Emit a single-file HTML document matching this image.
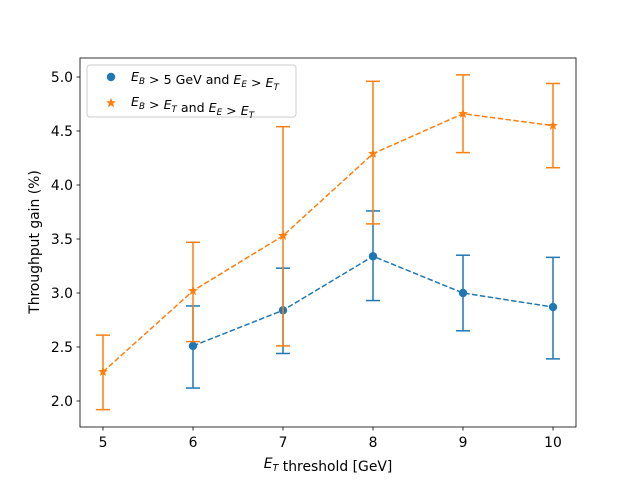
<!DOCTYPE html>
<html><head><meta charset="utf-8"><style>
body{margin:0;background:#fff;font-family:"DejaVu Sans","Liberation Sans",sans-serif;}
svg text{font-family:"DejaVu Sans","Liberation Sans",sans-serif;}
</style></head><body>
<svg id="chart" width="640" height="480" xmlns="http://www.w3.org/2000/svg"></svg>
<script>
const xCats=[5,6,7,8,9,10];
const blueX=[6,7,8,9,10];
const blueY=[2.51,2.84,3.34,3.00,2.87];
const blueLo=[2.12,2.44,2.93,2.65,2.39];
const blueHi=[2.88,3.23,3.76,3.35,3.33];
const orangeX=[5,6,7,8,9,10];
const orangeY=[2.27,3.02,3.53,4.29,4.66,4.55];
const orangeLo=[1.92,2.55,2.51,3.64,4.30,4.16];
const orangeHi=[2.61,3.47,4.54,4.96,5.02,4.94];
const yTicks=[2.0,2.5,3.0,3.5,4.0,4.5,5.0];
const yTickLabels=["2.0","2.5","3.0","3.5","4.0","4.5","5.0"];

const NS="http://www.w3.org/2000/svg";
const svg=document.getElementById('chart');
const L=80,R=576,T=58,B=427;
const FS=13.9, SFS=9.7, LFS=12.6, LSFS=8.8;
const sx=v=>103+(v-5)*90;
const sy=v=>77+(5-v)*108;
function mk(tag,attrs,parent){const e=document.createElementNS(NS,tag);for(const k in attrs)e.setAttribute(k,attrs[k]);(parent||svg).appendChild(e);return e;}

const frame=mk('rect',{x:L,y:T,width:R-L,height:B-T,fill:'none',stroke:'#000','stroke-width':0.8});



xCats.forEach(v=>{
  const t=mk('line',{x1:sx(v),x2:sx(v),y1:B,y2:B+3.5,stroke:'#000','stroke-width':0.8});
  
  
  const l=mk('text',{x:sx(v),y:B+20,'font-size':FS,'text-anchor':'middle'});l.textContent=v;
  
  
});
yTicks.forEach((v,i)=>{
  const t=mk('line',{x1:L-3.5,x2:L,y1:sy(v),y2:sy(v),stroke:'#000','stroke-width':0.8});
  
  
  const l=mk('text',{x:L-7,y:sy(v)+5,'font-size':FS,'text-anchor':'end'});l.textContent=yTickLabels[i];
  
  
});

function series(xs,ys,lo,hi,color,marker,name){
  const g=mk('g',{});
  
  
  mk('polyline',{points:xs.map((x,i)=>sx(x)+','+sy(ys[i])).join(' '),fill:'none',stroke:color,'stroke-width':1.5,'stroke-dasharray':'5.5,2.4'},g);
  xs.forEach((x,i)=>{
    const X=sx(x);
    const eb=mk('g',{stroke:color,'stroke-width':1.5},g);
    
    
    mk('line',{x1:X,x2:X,y1:sy(lo[i]),y2:sy(hi[i])},eb);
    mk('line',{x1:X-7,x2:X+7,y1:sy(lo[i]),y2:sy(lo[i])},eb);
    mk('line',{x1:X-7,x2:X+7,y1:sy(hi[i]),y2:sy(hi[i])},eb);
    const m=marker(X,sy(ys[i]),g);
    
    
  });
}
function circ(x,y,p){return mk('circle',{cx:x,cy:y,r:4.2,fill:'#1f77b4'},p);}
function star(x,y,p){let pts=[];for(let k=0;k<10;k++){const r=k%2?2.2:5.2,a=-Math.PI/2+k*Math.PI/5;pts.push((x+r*Math.cos(a)).toFixed(2)+','+(y+r*Math.sin(a)).toFixed(2));}return mk('polygon',{points:pts.join(' '),fill:'#ff7f0e'},p);}
series(blueX,blueY,blueLo,blueHi,'#1f77b4',circ,'series-blue');
series(orangeX,orangeY,orangeLo,orangeHi,'#ff7f0e',star,'series-orange');

const sub=(s,f)=>'<tspan font-size="'+f+'" dy="3" font-style="italic">'+s+'</tspan><tspan dy="-3"></tspan>';
const xt=mk('text',{x:328,y:468,'font-size':FS,'text-anchor':'middle'});
xt.innerHTML='<tspan font-style="italic">E</tspan>'+sub('T',SFS)+'<tspan> threshold [GeV]</tspan>';


const yt=mk('text',{x:0,y:0,'font-size':FS,'text-anchor':'middle',transform:'translate(39,242) rotate(-90)'});
yt.textContent='Throughput gain (%)';



const lg=mk('g',{});


mk('rect',{x:87,y:65,width:209,height:52,rx:3,fill:'#fff',stroke:'#ccc','stroke-width':1},lg);
const e1=circ(111,77,lg);


const e2=star(111,103,lg);


const t1=mk('text',{x:131,y:81,'font-size':LFS},lg);
t1.innerHTML='<tspan font-style="italic">E</tspan>'+sub('B',LSFS)+' &gt; 5 GeV and <tspan font-style="italic">E</tspan>'+sub('E',LSFS)+' &gt; <tspan font-style="italic">E</tspan>'+sub('T',LSFS);


const t2=mk('text',{x:131,y:106,'font-size':LFS},lg);
t2.innerHTML='<tspan font-style="italic">E</tspan>'+sub('B',LSFS)+' &gt; <tspan font-style="italic">E</tspan>'+sub('T',LSFS)+' and <tspan font-style="italic">E</tspan>'+sub('E',LSFS)+' &gt; <tspan font-style="italic">E</tspan>'+sub('T',LSFS);


</script>
</body></html>
